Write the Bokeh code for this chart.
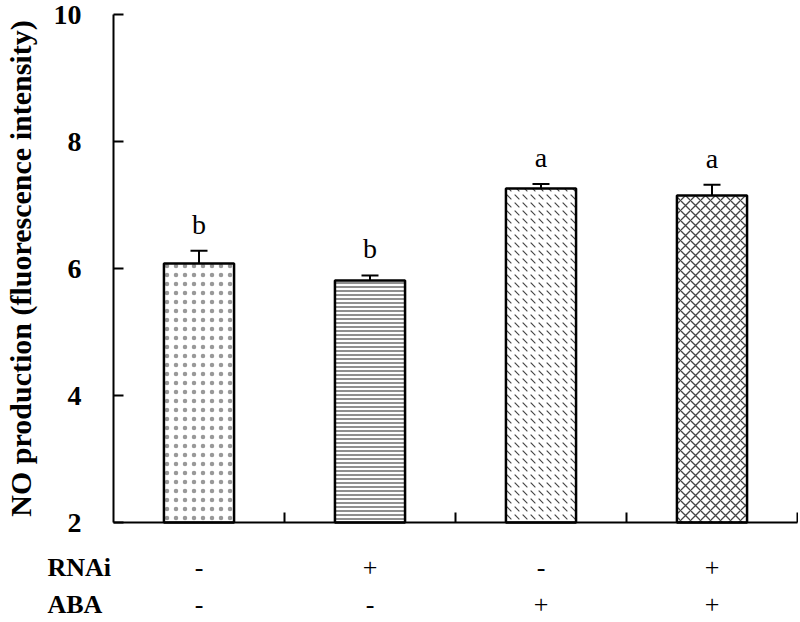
from bokeh.plotting import figure
from bokeh.models import (ColumnDataSource, Range1d, FixedTicker, Whisker, TeeHead,
                          LabelSet, Label)
from bokeh.embed import file_html
from bokeh.resources import INLINE

# ---- data ----
groups = [1, 2, 3, 4]
means = [6.08, 5.81, 7.26, 7.15]
errors = [0.20, 0.08, 0.07, 0.17]
letters = ["b", "b", "a", "a"]
rnai = ["-", "+", "-", "+"]
aba = ["-", "-", "+", "+"]
row_names = ["RNAi", "ABA"]
hatches = ["dot", "horizontal_line", "left_diagonal_dash", "diagonal_cross"]
hatch_scales = [9, 4, 8, 10]
hatch_weights = [1.0, 1.2, 1.1, 1.3]
hatch_colors = ["#999999", "#444444", "#444444", "#444444"]
y_ticks = [2, 4, 6, 8, 10]
x_bounds = [1.5, 2.5, 3.5, 4.5]

serif = "Liberation Serif"

# layout (pixel geometry of the frame)
W, H = 798, 620
AX_L, AX_R = 113, 797      # x-axis line extent in canvas px
Y_TOP, Y_BOT = 14, 522     # y=10 and y=2 in canvas px
xu = (AX_R - AX_L) / 4.0
yu = (Y_BOT - Y_TOP) / 8.0
x0 = 0.5 - AX_L / xu
x1 = 4.5 + (W - AX_R) / xu
y1 = 10 + Y_TOP / yu
y0 = 2 - (H - Y_BOT) / yu
ROW_Y = [2 - 45 / yu, 2 - 82 / yu]   # rows 45 and 82 px below the axis

src = ColumnDataSource(dict(
    x=groups, top=means, err=errors,
    upper=[m + e for m, e in zip(means, errors)],
    ly=[m + e + 17 / yu for m, e in zip(means, errors)],
    letter=letters, hatch=hatches, hscale=hatch_scales, hcolor=hatch_colors,
    hweight=hatch_weights, rnai=rnai, aba=aba,
))

p = figure(width=W, height=H, output_backend="svg", toolbar_location=None,
           x_range=Range1d(x0, x1), y_range=Range1d(y0, y1),
           min_border_left=0, min_border_right=0, min_border_top=0,
           min_border_bottom=0)
p.outline_line_color = None
p.xgrid.visible = False
p.ygrid.visible = False

p.vbar(x="x", top="top", bottom=2, width=0.41, source=src,
       fill_color="white", line_color="black", line_width=2.5,
       hatch_pattern="hatch", hatch_scale="hscale", hatch_color="hcolor",
       hatch_weight="hweight")

w = Whisker(base="x", upper="upper", lower="top", source=src,
            line_color="black", line_width=2,
            upper_head=TeeHead(size=17, line_width=2, line_color="black"),
            lower_head=None)
p.add_layout(w)

p.add_layout(LabelSet(x="x", y="ly", text="letter", source=src,
                      text_align="center", text_baseline="alphabetic",
                      text_font=serif, text_font_size="28px", text_color="black"))

# x axis (fixed at y=2)
xa = p.xaxis[0]
xa.fixed_location = 2
xa.bounds = (0.5, 4.5)
xa.ticker = FixedTicker(ticks=x_bounds)
xa.major_label_overrides = {t: "" for t in x_bounds}
xa.major_tick_in = 10
xa.major_tick_out = 0
xa.minor_tick_line_color = None
xa.axis_line_width = 2
xa.major_tick_line_width = 2

# y axis (fixed at x=0.5)
ya = p.yaxis[0]
ya.fixed_location = 0.5
ya.bounds = (2, 10)
ya.ticker = FixedTicker(ticks=y_ticks)
ya.major_tick_in = 10
ya.major_tick_out = 0
ya.minor_tick_line_color = None
ya.axis_line_width = 2
ya.major_tick_line_width = 2
ya.major_label_text_font = serif
ya.major_label_text_font_style = "bold"
ya.major_label_text_font_size = "28px"
ya.major_label_text_color = "black"
ya.major_label_standoff = 32
ya.axis_label = "NO production (fluorescence intensity)"
ya.axis_label_text_font = serif
ya.axis_label_text_font_style = "bold"
ya.axis_label_text_font_size = "30px"
ya.axis_label_text_color = "black"
ya.axis_label_standoff = 14

# treatment rows below the axis
for col, yv, name in zip(["rnai", "aba"], ROW_Y, row_names):
    p.add_layout(LabelSet(x="x", y=yv, text=col, source=src,
                          text_align="center", text_baseline="middle",
                          text_font=serif, text_font_size="26px", text_color="black"))
    p.add_layout(Label(x=47, x_units="screen", y=yv, text=name,
                       text_align="left", text_baseline="middle",
                       text_font=serif, text_font_style="bold",
                       text_font_size="26px", text_color="black"))

open("out.html", "w").write(file_html(p, INLINE))
